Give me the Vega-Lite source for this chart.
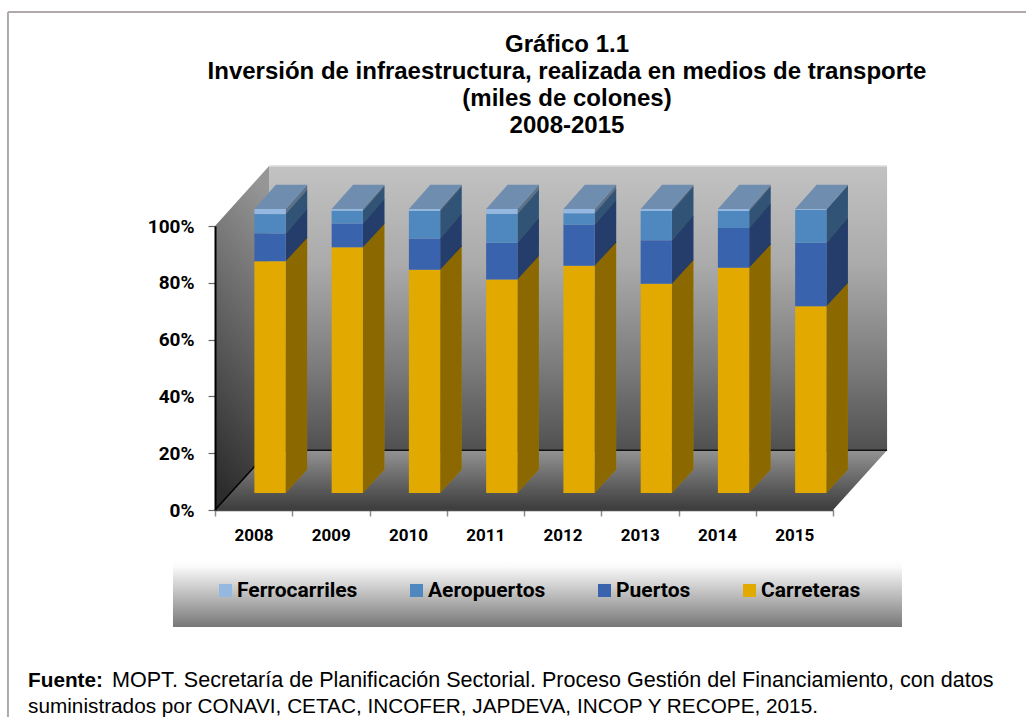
{
"$schema":"https://vega.github.io/schema/vega-lite/v6.json",
"width":618,"height":284,
"autosize":{"type":"none"},
"padding":{"left":215,"top":226,"right":193,"bottom":207},
"background":"white",
"config":{"view":{"stroke":null},"font":"Liberation Sans","axis":{"title":null}},
"title":{"text":["Gráfico 1.1","Inversión de infraestructura, realizada en medios de transporte","(miles de colones)","2008-2015"],"font":"Liberation Sans","fontSize":24,"fontWeight":"bold","color":"#000000","lineHeight":27,"anchor":"middle","frame":"group","dx":43,"offset":-151,"baseline":"bottom"},
"datasets":{"profundidad":[{"t":0},{"t":1}]},
"data":{"values":[
{"anio":2008,"serie":"Carreteras","valor":81.6},{"anio":2008,"serie":"Puertos","valor":9.8},{"anio":2008,"serie":"Aeropuertos","valor":6.8},{"anio":2008,"serie":"Ferrocarriles","valor":1.8},
{"anio":2009,"serie":"Carreteras","valor":86.5},{"anio":2009,"serie":"Puertos","valor":8.4},{"anio":2009,"serie":"Aeropuertos","valor":4.5},{"anio":2009,"serie":"Ferrocarriles","valor":0.6},
{"anio":2010,"serie":"Carreteras","valor":78.6},{"anio":2010,"serie":"Puertos","valor":11.0},{"anio":2010,"serie":"Aeropuertos","valor":9.8},{"anio":2010,"serie":"Ferrocarriles","valor":0.6},
{"anio":2011,"serie":"Carreteras","valor":75.2},{"anio":2011,"serie":"Puertos","valor":12.9},{"anio":2011,"serie":"Aeropuertos","valor":10.2},{"anio":2011,"serie":"Ferrocarriles","valor":1.7},
{"anio":2012,"serie":"Carreteras","valor":80.0},{"anio":2012,"serie":"Puertos","valor":14.5},{"anio":2012,"serie":"Aeropuertos","valor":4.0},{"anio":2012,"serie":"Ferrocarriles","valor":1.5},
{"anio":2013,"serie":"Carreteras","valor":73.7},{"anio":2013,"serie":"Puertos","valor":15.3},{"anio":2013,"serie":"Aeropuertos","valor":10.3},{"anio":2013,"serie":"Ferrocarriles","valor":0.7},
{"anio":2014,"serie":"Carreteras","valor":79.3},{"anio":2014,"serie":"Puertos","valor":14.0},{"anio":2014,"serie":"Aeropuertos","valor":6.0},{"anio":2014,"serie":"Ferrocarriles","valor":0.7},
{"anio":2015,"serie":"Carreteras","valor":65.7},{"anio":2015,"serie":"Puertos","valor":22.4},{"anio":2015,"serie":"Aeropuertos","valor":11.6},{"anio":2015,"serie":"Ferrocarriles","valor":0.3}
]},
"transform":[
{"calculate":"indexof(['Carreteras','Puertos','Aeropuertos','Ferrocarriles'],datum.serie)","as":"orden"},
{"stack":"valor","groupby":["anio"],"sort":[{"field":"orden","order":"ascending"}],"as":["v0","v1"]},
{"calculate":"datum.v0+6","as":"yb"},
{"calculate":"datum.v1+6","as":"yt"},
{"calculate":"datum.anio+0.01","as":"xi"},
{"calculate":"datum.anio+0.415","as":"xf"},
{"calculate":"0","as":"c0"},{"calculate":"1","as":"c1"}
],
"layer":[
{"data":{"values":[{"pared":"fondo"}]},
 "mark":{"type":"rect","color":{"gradient":"linear","x1":0,"y1":0,"x2":0,"y2":1,"stops":[{"offset":0,"color":"#c2c2c2"},{"offset":0.35,"color":"#aaaaaa"},{"offset":0.7,"color":"#7c7c7c"},{"offset":1,"color":"#505050"}]}},
 "encoding":{
  "x":{"datum":2008.2,"type":"quantitative","scale":{"domain":[2007.5,2015.5],"nice":false,"zero":false},
   "axis":{"title":null,"values":[2007.5,2008.5,2009.5,2010.5,2011.5,2012.5,2013.5,2014.5,2015.5],"labelExpr":"datum.value<2015?floor(datum.value)+1:(datum.value<2015.4?'2015':'')","labelOffset":38.6,"labelFont":"Roboto","labelFontWeight":"bold","labelFontSize":17,"labelColor":"#000000","labelPadding":11,"labelFlush":false,"labelOverlap":false,"tickColor":"#8c8c8c","tickSize":6,"tickWidth":1.5,"domainColor":"#4a4a4a","domainWidth":1.5,"grid":false,"zindex":1}},
  "x2":{"datum":2016.2},
  "y":{"datum":21,"type":"quantitative","scale":{"domain":[0,100],"nice":false,"zero":false},
   "axis":{"title":null,"values":[0,20,40,60,80,100],"labelExpr":"datum.value+'%'","labelFont":"Roboto","labelFontWeight":"bold","labelFontSize":19,"labelColor":"#000000","labelPadding":14,"labelFlush":false,"tickColor":"#666666","tickSize":7,"tickWidth":1.2,"domainColor":"#000000","domainWidth":2,"grid":false,"zindex":1}},
  "y2":{"datum":121.1}}},
{"data":{"name":"profundidad"},"transform":[{"calculate":"2007.5+datum.t*0.7","as":"x"},{"calculate":"datum.t*21","as":"a"},{"calculate":"100+datum.t*21.1","as":"b"}],
 "mark":{"type":"area","orient":"vertical","color":{"gradient":"linear","x1":0.6,"y1":0,"x2":0.4,"y2":1,"stops":[{"offset":0,"color":"#969696"},{"offset":1,"color":"#2c2c2c"}]}},
 "encoding":{"x":{"field":"x","type":"quantitative"},"y":{"field":"a","type":"quantitative","stack":null},"y2":{"field":"b"}}},
{"data":{"name":"profundidad"},"transform":[{"calculate":"2007.5+datum.t*0.7","as":"a"},{"calculate":"2015.5+datum.t*0.7","as":"b"},{"calculate":"datum.t*21","as":"y"}],
 "mark":{"type":"area","orient":"horizontal","color":{"gradient":"linear","x1":0,"y1":0,"x2":0,"y2":1,"stops":[{"offset":0,"color":"#929292"},{"offset":1,"color":"#3c3c3c"}]}},
 "encoding":{"y":{"field":"y","type":"quantitative"},"x":{"field":"a","type":"quantitative","stack":null},"x2":{"field":"b"}}},
{"data":{"name":"profundidad"},"transform":[{"calculate":"2007.5+datum.t*0.7","as":"x"},{"calculate":"datum.t*21","as":"y"}],
 "mark":{"type":"line","color":"#000000","strokeWidth":1.5},
 "encoding":{"x":{"field":"x","type":"quantitative"},"y":{"field":"y","type":"quantitative"}}},
{"data":{"values":[{"a":"suelo"}]},"mark":{"type":"rule","color":"#111111","strokeWidth":1.5},"encoding":{"x":{"datum":2008.2},"x2":{"datum":2016.2},"y":{"datum":21}}},
{"data":{"values":[{"a":"borde"}]},"mark":{"type":"rule","color":"#dcdcdc","strokeWidth":1.5},"encoding":{"x":{"datum":2008.2},"x2":{"datum":2016.2},"y":{"datum":121.1}}},
{"transform":[{"fold":["c0","c1"],"as":["cara","t"]},{"calculate":"datum.xf+datum.t*0.278","as":"xs"},{"calculate":"datum.yb+datum.t*8.3","as":"a"},{"calculate":"datum.yt+datum.t*8.5","as":"b"}],
 "mark":{"type":"area","orient":"vertical"},
 "encoding":{"x":{"field":"xs","type":"quantitative"},"y":{"field":"a","type":"quantitative","stack":null},"y2":{"field":"b"},"detail":{"field":"anio"},"color":{"field":"serie","type":"nominal"}}},
{"transform":[{"fold":["c0","c1"],"as":["cara","t"]},{"calculate":"datum.xf+datum.t*0.278","as":"xs"},{"calculate":"datum.yb+datum.t*8.3","as":"a"},{"calculate":"datum.yt+datum.t*8.5","as":"b"}],
 "mark":{"type":"area","orient":"vertical","color":"#000000","opacity":0.38},
 "encoding":{"x":{"field":"xs","type":"quantitative"},"y":{"field":"a","type":"quantitative","stack":null},"y2":{"field":"b"},"detail":[{"field":"anio"},{"field":"serie"}]}},
{"transform":[{"filter":"datum.serie==='Ferrocarriles'"},{"fold":["c0","c1"],"as":["cara","t"]},{"calculate":"datum.xi+datum.t*0.278","as":"a"},{"calculate":"datum.xf+datum.t*0.278","as":"b"},{"calculate":"datum.yt+datum.t*8.5","as":"y"}],
 "mark":{"type":"area","orient":"horizontal","color":"#6f8dae"},
 "encoding":{"y":{"field":"y","type":"quantitative"},"x":{"field":"a","type":"quantitative","stack":null},"x2":{"field":"b"},"detail":{"field":"anio"}}},
{"data":{"values":[{"a":"leyenda"}]},"mark":{"type":"rect","color":{"gradient":"linear","x1":0,"y1":0,"x2":0,"y2":1,"stops":[{"offset":0,"color":"#ffffff"},{"offset":0.1,"color":"#fafafa"},{"offset":1,"color":"#777777"}]}},
 "encoding":{"x":{"datum":2006.956},"x2":{"datum":2016.393},"y":{"datum":-17.6},"y2":{"datum":-41.2}}},
{"mark":{"type":"rect"},
 "encoding":{"x":{"field":"xi","type":"quantitative"},"x2":{"field":"xf"},"y":{"field":"yb","type":"quantitative","stack":null},"y2":{"field":"yt"},
  "color":{"field":"serie","type":"nominal","scale":{"domain":["Ferrocarriles","Aeropuertos","Puertos","Carreteras"],"range":["#95b8e0","#4f88be","#3a63ad","#e2a900"]},
   "legend":{"title":null,"orient":"none","legendX":0,"legendY":354,"direction":"horizontal","columns":4,"gridAlign":"none","columnPadding":48,"symbolType":"square","symbolSize":169,"symbolStrokeWidth":0,"labelFont":"Roboto","labelFontWeight":"bold","labelFontSize":21,"labelColor":"#000000","labelOffset":1,"padding":0,"labelLimit":300}}}},
{"data":{"values":[{"a":"marco"}]},"mark":{"type":"rule","color":"#b0aaaa","strokeWidth":2},"encoding":{"x":{"datum":2004.82},"x2":{"datum":2018.0},"y":{"datum":175.35}}},
{"data":{"values":[{"a":"marco"}]},"mark":{"type":"rule","color":"#b0aaaa","strokeWidth":2},"encoding":{"x":{"datum":2004.82},"y":{"datum":175.35},"y2":{"datum":-73}}},
{"data":{"values":[{"texto":"Fuente:"}]},"mark":{"type":"text","align":"left","baseline":"alphabetic","font":"Liberation Sans","fontSize":20.75,"fontWeight":"bold","color":"#000000"},
 "encoding":{"text":{"field":"texto"},"x":{"datum":2005.08},"y":{"datum":-62.3}}},
{"data":{"values":[{"texto":"MOPT. Secretaría de Planificación Sectorial. Proceso Gestión del Financiamiento, con datos"}]},"mark":{"type":"text","align":"left","baseline":"alphabetic","font":"Liberation Sans","fontSize":21.55,"color":"#000000"},
 "encoding":{"text":{"field":"texto"},"x":{"datum":2006.167},"y":{"datum":-62.3}}},
{"data":{"values":[{"texto":"suministrados por CONAVI, CETAC, INCOFER, JAPDEVA, INCOP Y RECOPE, 2015."}]},"mark":{"type":"text","align":"left","baseline":"alphabetic","font":"Liberation Sans","fontSize":20.75,"color":"#000000"},
 "encoding":{"text":{"field":"texto"},"x":{"datum":2005.08},"y":{"datum":-71.5}}}
]
}
